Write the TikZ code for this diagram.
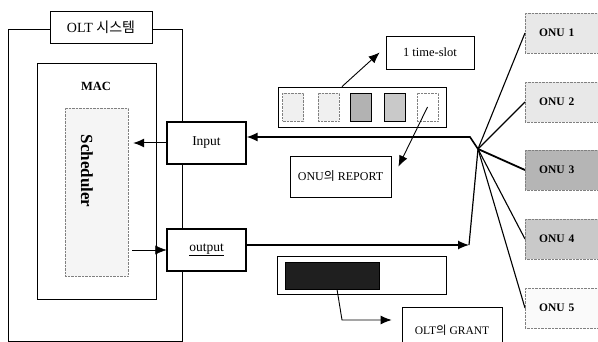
\documentclass[tikz,border=0pt]{standalone}
\usepackage{fontspec}
\setmainfont{Liberation Serif}
\newfontfamily\kr{Noto Sans CJK KR}
\usetikzlibrary{positioning,arrows.meta}

\begin{document}
\begin{tikzpicture}[
      x=1pt,y=-1pt,
      every node/.style={
        rectangle,
        draw,
        inner sep=1pt,
        font=\fontsize{11}{13}\selectfont
      },
      thickbox/.style={
        rectangle,
        draw,
        line width=1.1pt,
        fill=white
      },
      onu/.style={
        rectangle,
        draw=gray,
        densely dotted,
        anchor=west,
        minimum height=40,
        text width=64,
        inner xsep=14,
        align=left,
        font=\fontsize{11.5}{13}\selectfont\bfseries
      },
      slot/.style={
        rectangle,
        draw=gray,
        densely dotted,
        minimum width=21,
        minimum height=28
      },
      txt/.style={
        draw=none
      },
      arr/.style={
        -{Latex[length=11pt,width=9pt]}
      }
    ]
      \clip (0,0) rectangle (598,342);
      \fill[white] (0,0) rectangle (598,342);

      \node[minimum width=174, minimum height=312] (olt) at (95,185) {};
      \node[fill=white, minimum width=102, minimum height=32,
        font=\fontsize{14}{16}\selectfont]
        (oltlbl) at (101,27) {OLT {\kr 시스템}};

      \node[minimum width=119, minimum height=236] (mac) at (96.5,181) {};
      \node[txt, font=\fontsize{12.5}{14}\selectfont\bfseries]
        (maclbl) at (96,86) {MAC};

      \node[draw=gray, densely dotted, fill=gray!8,
        minimum width=63, minimum height=168] (sched) at (96.5,192) {};
      \node[txt, rotate=-90, font=\fontsize{17}{19}\selectfont\bfseries]
        (schedlbl) at (87,171) {Scheduler};

      \node[thickbox, minimum width=79, minimum height=42,
        font=\fontsize{13.5}{15}\selectfont] (inp) at (206.5,143) {Input};
      \node[thickbox, minimum width=79, minimum height=42,
        font=\fontsize{13.5}{15}\selectfont] (outp) at (206.5,250)
        {\underline{output}};

      \node[line width=0.8pt, minimum width=168, minimum height=40]
        (frame) at (362,107) {};
      \node[slot, fill=gray!12] (s1) at (293,107) {};
      \node[slot, fill=gray!12] (s2) at (328.5,107) {};
      \node[slot, draw=black, solid, fill=gray!60] (s3) at (361,107) {};
      \node[slot, draw=black, solid, fill=gray!42] (s4) at (394.5,107) {};
      \node[slot, fill=white] (s5) at (427.5,107) {};

      \node[line width=0.8pt, minimum width=88, minimum height=33,
        font=\fontsize{12.5}{14}\selectfont]
        (tslot) at (430,52.5) {1 time-slot};

      \node[line width=0.8pt, minimum width=101, minimum height=41,
        font=\fontsize{12}{14}\selectfont]
        (rep) at (340.5,176.5) {ONU{\kr 의} REPORT};

      \node[line width=0.8pt, minimum width=169, minimum height=38]
        (gframe) at (361.5,275) {};
      \node[fill=black!88, minimum width=94, minimum height=27]
        (blk) at (332,275.5) {};

      \node[line width=0.8pt, minimum width=100, minimum height=46,
        font=\fontsize{11.5}{13}\selectfont]
        (grant) at (452,330) {OLT{\kr 의} GRANT};

      \node[onu, fill=gray!18] (onu1) at (525,33) {ONU 1};
      \node[onu, fill=gray!18] (onu2) at (525,102) {ONU 2};
      \node[onu, fill=gray!58] (onu3) at (525,170) {ONU 3};
      \node[onu, fill=gray!42] (onu4) at (525,239) {ONU 4};
      \node[onu, fill=gray!4] (onu5) at (525,308) {ONU 5};

      \coordinate (hub) at (478,149);
      \coordinate (bend) at (470,137);
      \coordinate (oc) at (469,245);
      \coordinate (gc) at (342,320);

      \draw[line width=1.6pt, arr] (hub) -- (bend) -- (bend -| inp.east);
      \draw[line width=1pt, arr] (inp.west) -- ([xshift=5pt]sched.east |- inp.west);
      \draw[arr] ([xshift=4pt]sched.east |- outp.west) -- (outp.west);
      \draw[line width=1.2pt, arr] ([yshift=5pt]outp.east) -- (oc);
      \draw[line width=1.2pt] (oc) -- (hub);

      \draw[line width=1.1pt] (hub) -- (onu1.west);
      \draw[line width=1.3pt] (hub) -- (onu2.west);
      \draw[line width=1.8pt] (hub) -- (onu3.west);
      \draw[line width=1.1pt] (hub) -- (onu4.west);
      \draw[line width=1.1pt] (hub) -- (onu5.west);

      \draw[line width=0.9pt, arr] ([xshift=-20pt]frame.north) -- ([xshift=-6pt]tslot.west);
      \draw[line width=0.9pt, arr] (s5.center) -- ([xshift=7pt,yshift=-11pt]rep.north east);
      \draw[line width=0.9pt, arr] ([xshift=5pt]blk.south) -- (gc) -- ([xshift=-10pt]gc -| grant.west);
    \end{tikzpicture}
\end{document}
